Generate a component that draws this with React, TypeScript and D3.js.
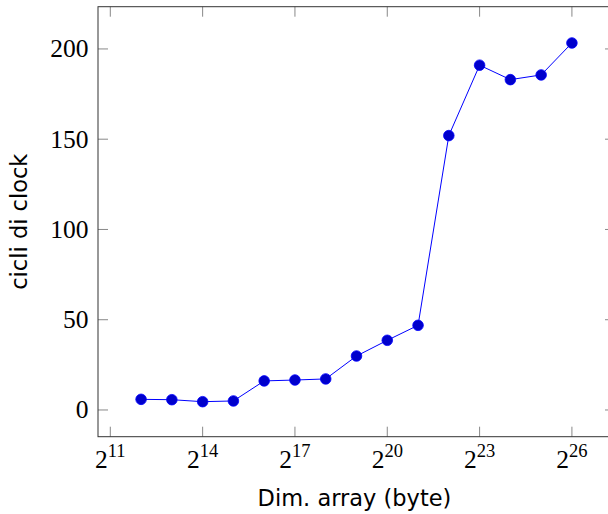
import React from "react";
import * as d3 from "d3";

const exponents = [12, 13, 14, 15, 16, 17, 18, 19, 20, 21, 22, 23, 24, 25, 26];
const cycles = [5.9, 5.7, 4.6, 5.0, 16.1, 16.6, 17.2, 29.9, 38.6, 46.9, 152.0, 191.0, 183.0, 185.6, 203.3];
const xTickExponents = [11, 14, 17, 20, 23, 26];
const yTicks = [0, 50, 100, 150, 200];
const xLabel = "Dim. array (byte)";
const yLabel = "cicli di clock";

const W = 608;
const H = 514;
const left = 98;
const right = 615;
const top = 6.7;
const bottom = 436.7;

export default function App() {
  const x = d3.scaleLog().base(2).domain([Math.pow(2, 10.6), Math.pow(2, 27.4)]).range([left, right]);
  const y = d3.scaleLinear().domain([-14.8, 223.4]).range([bottom, top]);
  const pts = exponents.map((e, i) => [x(Math.pow(2, e)), y(cycles[i])] as [number, number]);
  const line = d3.line<[number, number]>()(pts) || "";
  const tickLen = 10;
  const serif = "'Liberation Serif', 'DejaVu Serif', serif";
  const sans = "'DejaVu Sans', sans-serif";
  return (
    <svg width={W} height={H} style={{ position: "absolute", left: 0, top: 0, background: "#fff" }}>
      <rect x={0} y={0} width={W} height={H} fill="#fff" />
      {xTickExponents.map((e) => {
        const xx = x(Math.pow(2, e));
        return (
          <g key={"xt" + e}>
            <line x1={xx} x2={xx} y1={bottom} y2={bottom - tickLen} stroke="#888" strokeWidth={1} />
            <line x1={xx} x2={xx} y1={top} y2={top + tickLen} stroke="#888" strokeWidth={1} />
            <text x={xx} y={468} textAnchor="middle" fontFamily={serif} fontSize={25.5} fill="#000">
              2<tspan fontSize={18.5} dy={-11}>{e}</tspan>
            </text>
          </g>
        );
      })}
      {yTicks.map((t) => {
        const yy = y(t);
        return (
          <g key={"yt" + t}>
            <line x1={left} x2={left + tickLen} y1={yy} y2={yy} stroke="#888" strokeWidth={1} />
            <line x1={right} x2={right - tickLen} y1={yy} y2={yy} stroke="#888" strokeWidth={1} />
            <text x={88.5} y={yy} dy="0.33em" textAnchor="end" fontFamily={serif} fontSize={25.5} fill="#000">
              {t}
            </text>
          </g>
        );
      })}
      <rect x={left} y={top} width={right - left} height={bottom - top} fill="none" stroke="#333" strokeWidth={1} />
      <path d={line} fill="none" stroke="#0000ff" strokeWidth={1} />
      {pts.map((p, i) => (
        <circle key={i} cx={p[0]} cy={p[1]} r={5.3} fill="#0000cc" stroke="#0000ff" strokeWidth={0.8} />
      ))}
      <text x={(left + right) / 2 - 2} y={506} textAnchor="middle" fontFamily={sans} fontSize={22.5} fill="#000">
        {xLabel}
      </text>
      <text transform={`translate(27, ${(top + bottom) / 2}) rotate(-90)`} textAnchor="middle" fontFamily={sans} fontSize={22.5} fill="#000">
        {yLabel}
      </text>
    </svg>
  );
}
